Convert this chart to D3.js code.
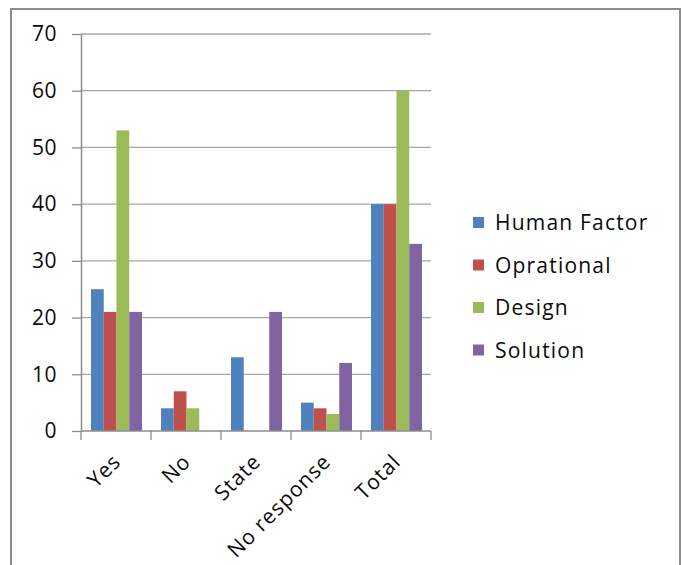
<!DOCTYPE html>
<html>
<head>
<meta charset="utf-8">
<script src="https://cdn.jsdelivr.net/npm/d3@7"></script>
<style>
  body { margin: 0; background: #fff; }
  text { font-family: "Open Sans", Lato, sans-serif; fill: #0a0a0a; }
</style>
</head>
<body>
<div id="chart"></div>
<script>
'use strict';

// categories and series
var categories = ["Yes", "No", "State", "No response", "Total"];
var seriesNames = ["Human Factor", "Oprational", "Design", "Solution"];
var humanFactor = [25, 4, 13, 5, 40];
var oprational  = [21, 7, 0, 4, 40];
var design      = [53, 4, 0, 3, 60];
var solution    = [21, 0, 21, 12, 33];
var yTicks = [0, 10, 20, 30, 40, 50, 60, 70];

var colors = ["#4f81bd", "#c0504d", "#9bbb59", "#8064a2"];
var seriesValues = [humanFactor, oprational, design, solution];

var W = 682, H = 565;
var margin = {top: 34, left: 81};
var width = 350, height = 397;

var svg = d3.select("#chart").append("svg")
    .attr("width", W).attr("height", H);

// outer frame
svg.append("rect")
    .attr("x", 11).attr("y", 9)
    .attr("width", 669).attr("height", 580)
    .attr("fill", "none").attr("stroke", "#8c8c8c").attr("stroke-width", 2);

var g = svg.append("g").attr("transform", "translate(" + margin.left + "," + margin.top + ")");

var x0 = d3.scaleBand().domain(categories).range([0, width]).paddingInner(0).paddingOuter(0);
var x1 = d3.scaleBand().domain(seriesNames).range([10, x0.bandwidth() - 9]);
var y = d3.scaleLinear().domain([0, 70]).range([height, 0]);

// gridlines
g.append("g").selectAll("line").data(yTicks.slice(1)).enter().append("line")
    .attr("x1", 0).attr("x2", width)
    .attr("y1", function(d) { return y(d); }).attr("y2", function(d) { return y(d); })
    .attr("stroke", "#a6a6a6").attr("stroke-width", 1.3);

// bars
var rows = categories.map(function(c, i) {
    return seriesNames.map(function(s, j) { return {cat: c, key: s, value: seriesValues[j][i], idx: j}; });
});
g.append("g").selectAll("g").data(rows).enter().append("g")
    .attr("transform", function(d, i) { return "translate(" + x0(categories[i]) + ",0)"; })
  .selectAll("rect").data(function(d) { return d.filter(function(e) { return e.value > 0; }); })
  .enter().append("rect")
    .attr("x", function(d) { return x1(d.key); })
    .attr("width", x1.bandwidth())
    .attr("y", function(d) { return y(d.value); })
    .attr("height", function(d) { return height - y(d.value); })
    .attr("fill", function(d) { return colors[d.idx]; });

// y axis
var yAxis = g.append("g")
    .call(d3.axisLeft(y).tickValues(yTicks).tickSize(9).tickPadding(15).tickSizeOuter(0));
yAxis.select(".domain").attr("stroke", "#8c8c8c").attr("stroke-width", 1.5);
yAxis.selectAll(".tick line").attr("stroke", "#8c8c8c").attr("stroke-width", 1.3);
yAxis.selectAll("text").attr("font-size", "21px").attr("letter-spacing", "0.5px")
    .style("font-family", "'Open Sans', sans-serif").attr("fill", "#0a0a0a");

// x axis line and boundary ticks
var xg = g.append("g").attr("transform", "translate(0," + height + ")");
xg.append("line").attr("x1", 0).attr("x2", width).attr("stroke", "#8c8c8c").attr("stroke-width", 1.5);
xg.selectAll(".bt").data(categories.concat(["_end"])).enter().append("line")
    .attr("class", "bt")
    .attr("x1", function(d, i) { return i * x0.bandwidth(); })
    .attr("x2", function(d, i) { return i * x0.bandwidth(); })
    .attr("y1", 0).attr("y2", 9)
    .attr("stroke", "#8c8c8c").attr("stroke-width", 1.3);

xg.selectAll(".lbl").data(categories).enter().append("text")
    .attr("class", "lbl")
    .attr("text-anchor", "end")
    .attr("font-size", "21px")
    .attr("letter-spacing", "1px")
    .attr("transform", function(d) {
        return "translate(" + (x0(d) + x0.bandwidth() / 2 + 6) + ",32) rotate(-45)";
    })
    .text(function(d) { return d; });

// legend
var legend = svg.append("g").attr("transform", "translate(473,223)");
var items = legend.selectAll("g").data(seriesNames).enter().append("g")
    .attr("transform", function(d, i) { return "translate(0," + (i * 42.5) + ")"; });
items.append("rect").attr("x", 0).attr("y", -6).attr("width", 11).attr("height", 11)
    .attr("fill", function(d, i) { return colors[i]; });
items.append("text").attr("x", 22).attr("y", 0).attr("dy", "0.35em")
    .attr("font-size", "21px").attr("letter-spacing", "1.2px").text(function(d) { return d; });
</script>
</body>
</html>
